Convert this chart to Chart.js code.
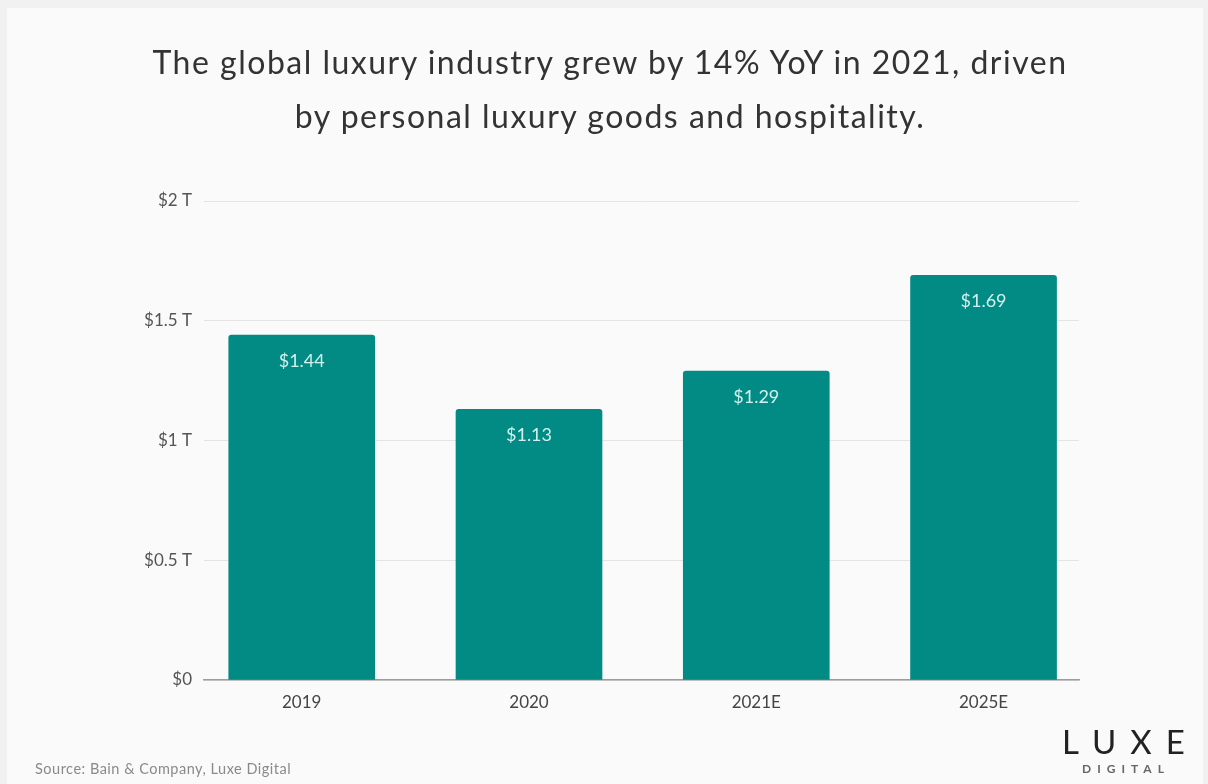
<!DOCTYPE html>
<html>
<head>
<meta charset="utf-8">
<script src="https://cdn.jsdelivr.net/npm/chart.js@4"></script>
<style>
  html, body { margin: 0; padding: 0; background: #f1f1f1; }
  body { width: 1208px; height: 784px; overflow: hidden; position: relative; }
  #panel { position: absolute; left: 7px; top: 8px; width: 1196px; height: 776px; background: #fafafa; }
  #chart { position: absolute; left: 0; top: 0; }
  h1 { position: absolute; left: 0; top: 27px; width: 1206px; margin: 0; text-align: center;
       font: 400 32px/54px Lato, sans-serif; letter-spacing: 1.5px; color: #333; }
  .source { position: absolute; left: 28px; top: 752px; font: 400 14.5px Lato, sans-serif; letter-spacing: 0.5px; color: #8a8a8a; }
  .logo { position: absolute; left: 1041px; top: 715px; width: 150px; text-align: center; color: #222; }
  .logo .big { font: 400 33px Lato, sans-serif; letter-spacing: 14px; margin-left: 14px; line-height: 36px; }
  .logo .small { font: 700 12px Lato, sans-serif; letter-spacing: 6px; margin-left: 6px; color: #666; line-height: 20px; }
</style>
</head>
<body>
<div id="panel">
  <canvas id="chart" width="1196" height="776"></canvas>
  <h1>The global luxury industry grew by 14% YoY in 2021, driven<br>by personal luxury goods and hospitality.</h1>
  <div class="source">Source: Bain &amp; Company, Luxe Digital</div>
  <div class="logo"><div class="big">LUXE</div><div class="small">DIGITAL</div></div>
</div>
<script>
const years = ['2019', '2020', '2021E', '2025E']
const revenue = [1.44, 1.13, 1.29, 1.69]
const yTickLabels = ['$0', '$0.5 T', '$1 T', '$1.5 T', '$2 T']

// value printed near the top of each bar
const barLabels = {
  id: 'barLabels',
  afterDatasetsDraw(chart) {
    const ctx = chart.ctx
    const meta = chart.getDatasetMeta(0)
    ctx.save()
    ctx.font = '18px Lato, sans-serif'
    ctx.fillStyle = '#d3f0ec'
    ctx.textAlign = 'center'
    ctx.textBaseline = 'middle'
    meta.data.forEach((bar, i) => {
      ctx.fillText('$' + revenue[i].toFixed(2), bar.x, bar.y + 26)
    })
    ctx.restore()
  }
}

const ctx = document.getElementById('chart')
new Chart(ctx, {
  type: 'bar',
  data: {
    datasets: [{
      data: years.map((y, i) => ({x: i, y: revenue[i]})),
      backgroundColor: '#028b85',
      borderRadius: 3,
      barThickness: 146
    }]
  },
  options: {
    responsive: false,
    animation: false,
    layout: {padding: {top: 193, right: 124, bottom: 64, left: 0}},
    plugins: {legend: {display: false}, tooltip: {enabled: false}},
    scales: {
      x: {
        type: 'linear',
        offset: false,
        min: -0.43,
        max: 3.42,
        afterBuildTicks: scale => { scale.ticks = years.map((y, i) => ({value: i})) },
        afterFit: scale => { scale.height = 40 },
        grid: {display: false, drawTicks: false, offset: false},
        border: {display: true, color: '#9c9c9c', width: 1.5},
        ticks: {
          padding: 12,
          color: '#444',
          font: {family: 'Lato', size: 17},
          callback: v => years[v]
        }
      },
      y: {
        min: 0,
        max: 2,
        afterFit: scale => { scale.width = 197 },
        grid: {color: '#e4e4e4', drawTicks: false},
        border: {display: false},
        ticks: {
          stepSize: 0.5,
          padding: 12,
          color: '#555',
          font: {family: 'Lato', size: 17},
          callback: (v, i) => yTickLabels[i]
        }
      }
    }
  },
  plugins: [barLabels]
})
</script>
</body>
</html>
